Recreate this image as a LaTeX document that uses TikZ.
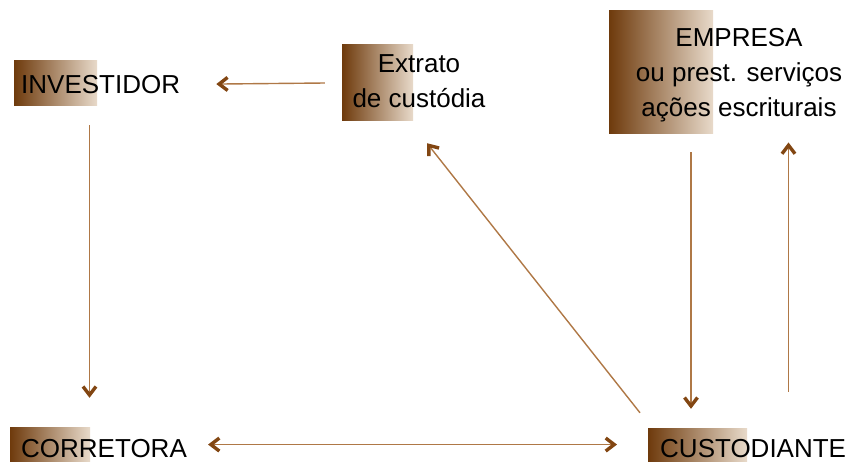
\documentclass[tikz,border=0pt]{standalone}
\usepackage{fontspec}
\setmainfont{Liberation Sans}
\usetikzlibrary{arrows.meta,calc}
\definecolor{linebr}{RGB}{175,120,70}
\definecolor{headbr}{RGB}{130,70,18}
\definecolor{boxdark}{RGB}{110,58,12}
\definecolor{boxmid}{RGB}{168,126,84}
\definecolor{boxlight}{RGB}{232,218,202}
\tikzset{
  gradbox/.style={rectangle, draw=none, inner sep=0pt,
    left color=boxdark, middle color=boxmid, right color=boxlight},
  label26/.style={inner sep=0pt, font=\fontsize{26}{35}\selectfont, text=black, align=center},
  chev/.tip={Straight Barb[length=8.5pt,width=13pt,line width=3.4pt,color=headbr]},
  gap/.tip={Bar[width=0pt,line width=0.05pt,color=white,sep=2.5pt]},
  arr/.style={draw=linebr, line width=1.4pt, -{gap[]chev[]}},
  arrboth/.style={draw=linebr, line width=1.4pt, {chev[]gap[]}-{gap[]chev[]}},
}
\begin{document}
\begin{tikzpicture}[x=1pt,y=-1pt]
\useasboundingbox (0,0) rectangle (850,461);
% gradient boxes
\node[gradbox, minimum width=83pt, minimum height=45pt] (invbox) at (55.5,82.5) {};
\node[gradbox, minimum width=71pt, minimum height=76pt] (extbox) at (377.5,82) {};
\node[gradbox, minimum width=104pt, minimum height=123pt] (empbox) at (661,71.5) {};
\node[gradbox, minimum width=80pt, minimum height=34pt] (corbox) at (50,444) {};
\node[gradbox, minimum width=99pt, minimum height=33pt] (cusbox) at (697.5,444.5) {};
% texts
\node[label26, anchor=base west] (inv) at (21,93) {INVESTIDOR};
\node[label26, anchor=north] (ext) at (419,54.4) {Extrato\\de custódia};
\node[label26, anchor=north] (emp) at (739,28.4) {EMPRESA\\ou prest. serviços\\ações escriturais};
\node[label26, anchor=base west] (cor) at (21,457) {CORRETORA};
\node[label26, anchor=base west] (cus) at (660,457) {CUSTODIANTE};
% connectors
\draw[arr] ($(extbox.west)+(-17,1)$) -- ($(inv.east)+(36,0)$);
\draw[arr] ($(invbox.south)+(34,20)$) -- ($(corbox.north)+(39.5,-29)$);
\draw[arrboth] ($(cor.east)+(21,-3.5)$) -- ($(cus.west)+(-43,-3.5)$);
\draw[arr] ($(cusbox.north)+(-57.5,-15)$) -- ($(extbox.south)+(49.5,23)$);
\draw[arr] ($(empbox.south)+(30,19)$) -- ($(cusbox.north)+(-6.5,-19)$);
\draw[arr] ($(cusbox.north)+(91,-36)$) -- ($(emp.south)+(49.5,20)$);
\end{tikzpicture}
\end{document}
